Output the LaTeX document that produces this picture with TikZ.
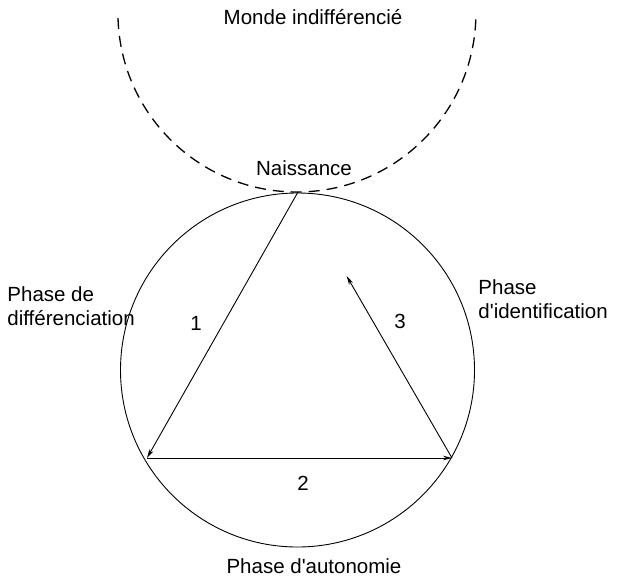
\documentclass[tikz,border=0pt]{standalone}
\usepackage{fontspec}
\setmainfont{Liberation Sans}
\usetikzlibrary{arrows.meta,calc,positioning}

\begin{document}
\begin{tikzpicture}[x=1pt,y=-1pt,line width=0.9pt,
		Label/.style={font=\fontsize{20.5}{23.5}\selectfont,inner sep=0pt},
		Side/.style={Label,align=left,anchor=west},
		Phase/.style={-{Stealth[length=9pt,width=4.5pt]}}]
	\useasboundingbox (0,0) rectangle (617,577);
	% the two tangent circles
	\coordinate (world) at (297,13);
	\coordinate (self) at (297.5,370);
	\draw[line width=1.3pt,dash pattern=on 11pt off 7pt] ($(world)+(-179,5)$) arc[start angle=178.4,end angle=1.6,radius=179];
	\draw (self) circle[radius=177];
	% vertices of the triangle
	\coordinate (birth) at (298,192);
	\coordinate (diff) at (147,458);
	\coordinate (auto) at (452,458);
	\coordinate (back) at ($(auto)!0.684!(birth)$);
	\draw[Phase] (birth) -- (diff);
	\draw[Phase] (diff) -- (auto);
	\draw[Phase] (auto) -- (back);
	% labels
	\node[Label] (monde) at (313,17) {Monde indifférencié};
	\node[Label] (naiss) at (304,168) {Naissance};
	\node[Side] (pdiff) at (7,306) {Phase de\\différenciation};
	\node[Side] (pident) at (478,299) {Phase\\d\textquotesingle identification};
	\node[Label] (pauto) at (314,566) {Phase d\textquotesingle autonomie};
	\node[Label] (one) at (196,323) {1};
	\node[Label] (two) at (303,483) {2};
	\node[Label] (three) at (400,321) {3};
\end{tikzpicture}
\end{document}
